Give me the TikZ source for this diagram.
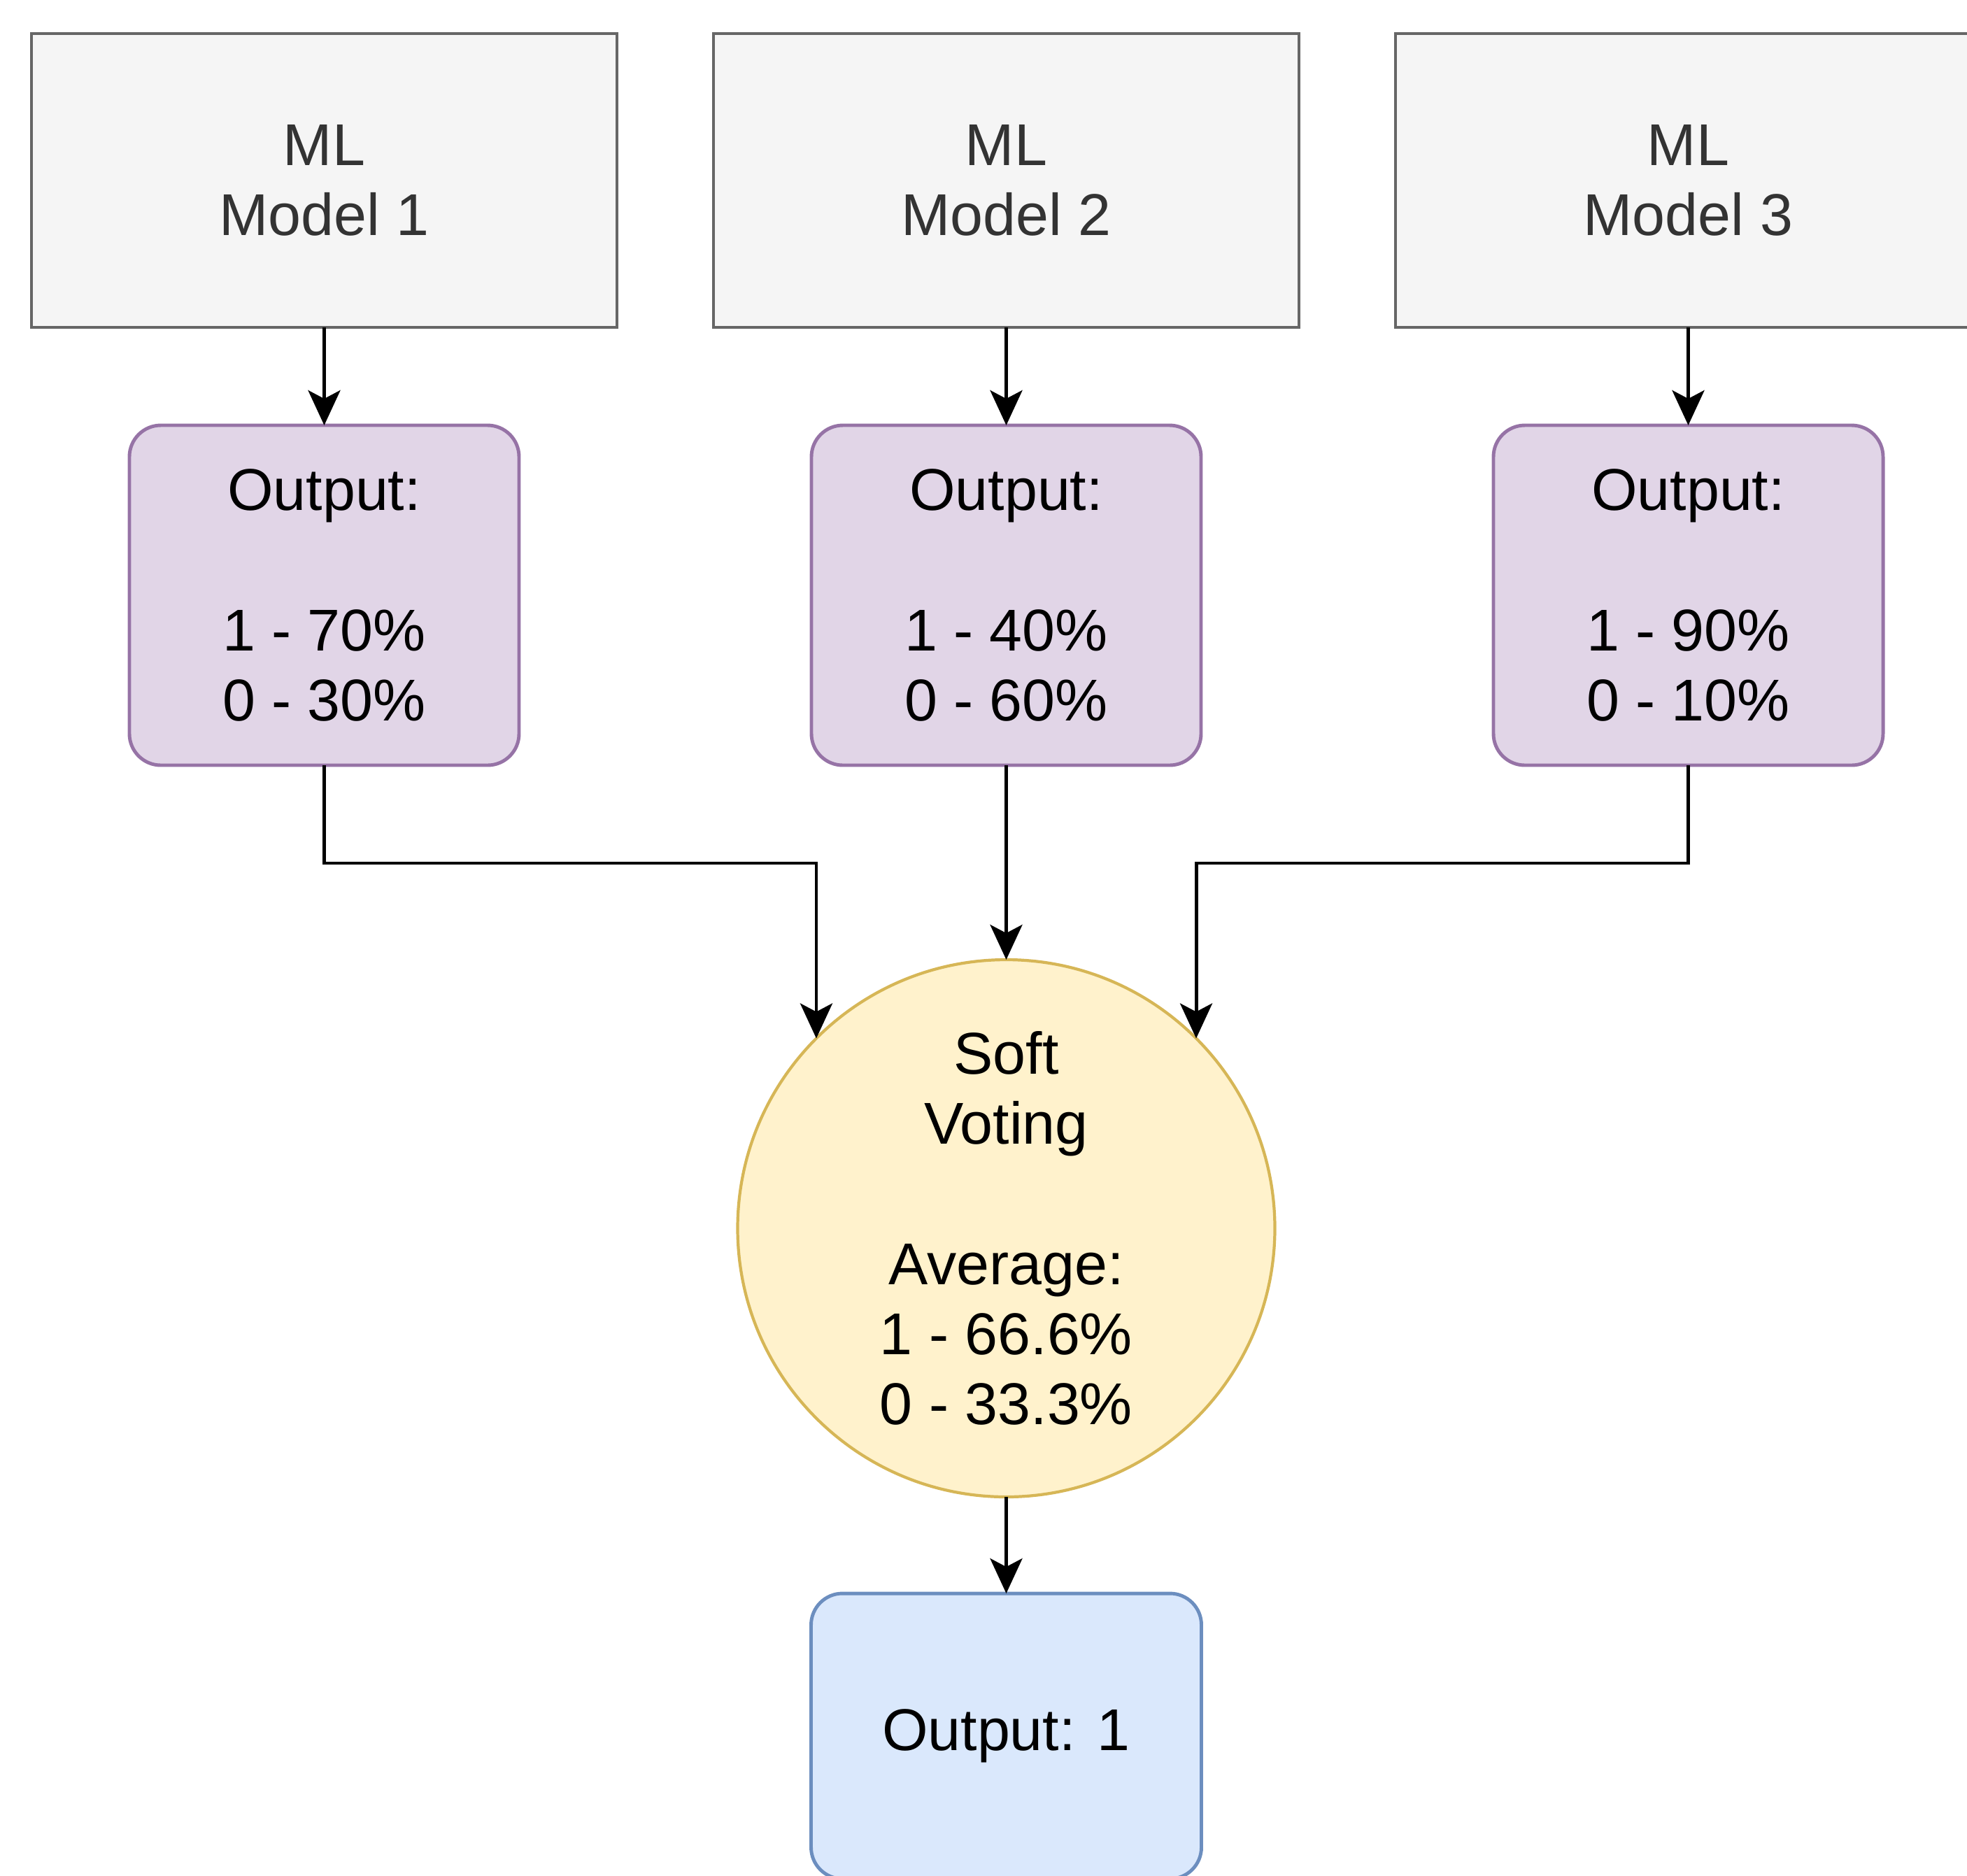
\documentclass[tikz,border=0pt]{standalone}
\usepackage{fontspec}
\setmainfont{Liberation Sans}
\usetikzlibrary{arrows.meta, positioning}
\definecolor{modelfill}{HTML}{F5F5F5}
\definecolor{modeldraw}{HTML}{666666}
\definecolor{modeltext}{HTML}{333333}
\definecolor{outfill}{HTML}{E1D5E7}
\definecolor{outdraw}{HTML}{9673A6}
\definecolor{votefill}{HTML}{FFF2CC}
\definecolor{votedraw}{HTML}{D6B656}
\definecolor{finalfill}{HTML}{DAE8FC}
\definecolor{finaldraw}{HTML}{6C8EBF}
\tikzstyle{model} = [rectangle, minimum width=8.37cm, minimum height=4.2cm, outer sep=0pt, draw=modeldraw, fill=modelfill, text=modeltext, line width=1.4pt, align=center]
\tikzstyle{output} = [rectangle, rounded corners=0.45cm, minimum width=5.57cm, minimum height=4.86cm, outer sep=0pt, draw=outdraw, fill=outfill, line width=1.4pt, align=center]
\tikzstyle{vote} = [circle, minimum size=7.68cm, inner sep=0pt, outer sep=0pt, draw=votedraw, fill=votefill, line width=1.2pt, align=center]
\tikzstyle{final} = [rectangle, rounded corners=0.45cm, minimum width=5.58cm, minimum height=4.08cm, outer sep=0pt, draw=finaldraw, fill=finalfill, line width=1.4pt, align=center]
\tikzstyle{arrow} = [line width=1.4pt, -{Stealth[length=0.5cm, width=0.46cm, inset=0.12cm]}]

\begin{document}
\begin{tikzpicture}[font=\fontsize{24}{28.5}\selectfont]
    \clip (0,0) rectangle (28.12,-26.81);

    % Models
    \node (m1) [model] at (4.635,-2.58) {ML\\Model 1};
    \node (m2) [model, right=1.38cm of m1] {ML\\Model 2};
    \node (m3) [model, right=1.38cm of m2] {ML\\Model 3};

    % Model outputs
    \node (out1) [output, below=1.4cm of m1] {Output:\\[28.5pt]1 - 70\%\\0 - 30\%};
    \node (out2) [output, below=1.4cm of m2] {Output:\\[28.5pt]1 - 40\%\\0 - 60\%};
    \node (out3) [output, below=1.4cm of m3] {Output:\\[28.5pt]1 - 90\%\\0 - 10\%};

    % Soft voting
    \node (vote) [vote, below=2.78cm of out2] {Soft\\Voting\\[28.5pt]Average:\\1 - 66.6\%\\0 - 33.3\%};

    % Final output
    \node (final) [final, below=1.38cm of vote] {Output: 1};

    % Arrows
    \draw [arrow] (m1) -- (out1);
    \draw [arrow] (m2) -- (out2);
    \draw [arrow] (m3) -- (out3);
    \draw [arrow] (out1.south) -- ++(0,-1.4) -| (vote.north west);
    \draw [arrow] (out2) -- (vote);
    \draw [arrow] (out3.south) -- ++(0,-1.4) -| (vote.north east);
    \draw [arrow] (vote) -- (final);

\end{tikzpicture}
\end{document}
